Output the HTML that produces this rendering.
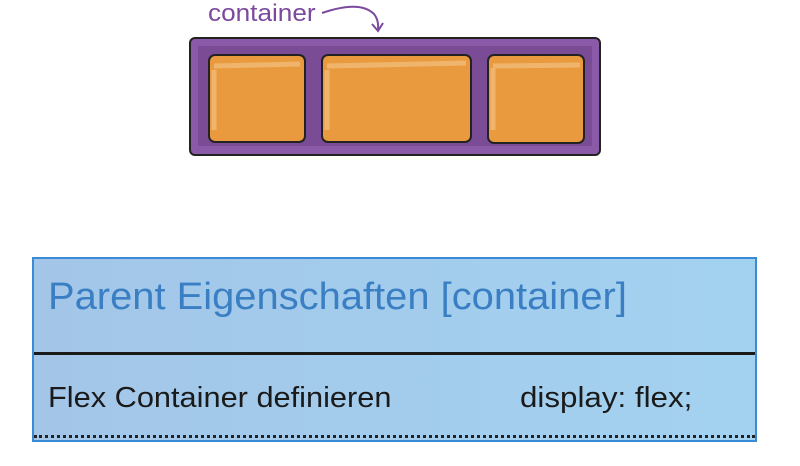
<!DOCTYPE html>
<html><head><style>
body{margin:0;width:800px;height:466px;background:#fff;position:relative;overflow:hidden;font-family:"Liberation Sans",sans-serif}
.a{position:absolute;white-space:nowrap;transform-origin:0 0}
</style></head><body>
<div class="a" style="left:208px;top:0px;font-size:24px;color:#7b4a9e;transform:scaleX(1.09)">container</div>
<svg class="a" style="left:0;top:0" width="800" height="170">
<path d="M322 13 Q360 0 374 14 Q379 20 378 30" stroke="#7b4a9e" stroke-width="2" fill="none"/>
<path d="M372 24 L378 31 L383 23" stroke="#7b4a9e" stroke-width="2" fill="none"/>
<rect x="190" y="38" width="410" height="117" rx="5" fill="#8a5aa8" stroke="#222" stroke-width="2"/>
<rect x="198" y="46" width="394" height="100" fill="#7a4c96"/>
<rect x="209" y="55" width="96" height="87" rx="6" fill="#e99a3e" stroke="#222" stroke-width="2"/>
<rect x="322" y="55" width="149" height="87" rx="6" fill="#e99a3e" stroke="#222" stroke-width="2"/>
<rect x="488" y="55" width="96" height="88" rx="6" fill="#e99a3e" stroke="#222" stroke-width="2"/>
<path d="M214 70 L214 130 M214 66 L300 64 M327 70 L327 130 M327 66 L466 63 M493 68 L493 130 M493 66 L580 65" stroke="#f0b56c" stroke-width="5" fill="none"/>
</svg>
<div class="a" style="left:32px;top:257px;width:721px;height:181px;border:2px solid #3a8ad6;background:linear-gradient(90deg,#a3c6e8,#a3d2f0)">
<div class="a" style="left:14px;top:17px;font-size:38px;color:#3a7fc4;transform:scaleX(1.05)">Parent Eigenschaften [container]</div>
<div class="a" style="left:0;top:93px;width:721px;height:3px;background:#1a1a1a"></div>
<div class="a" style="left:14px;top:123px;font-size:29px;color:#1a1a1a;transform:scaleX(1.06)">Flex Container definieren</div>
<div class="a" style="left:486px;top:123px;font-size:29px;color:#1a1a1a;transform:scaleX(1.08)">display: flex;</div>
<div class="a" style="left:0;top:176px;width:721px;height:0;border-top:3px dotted #222"></div>
</div>
</body></html>
